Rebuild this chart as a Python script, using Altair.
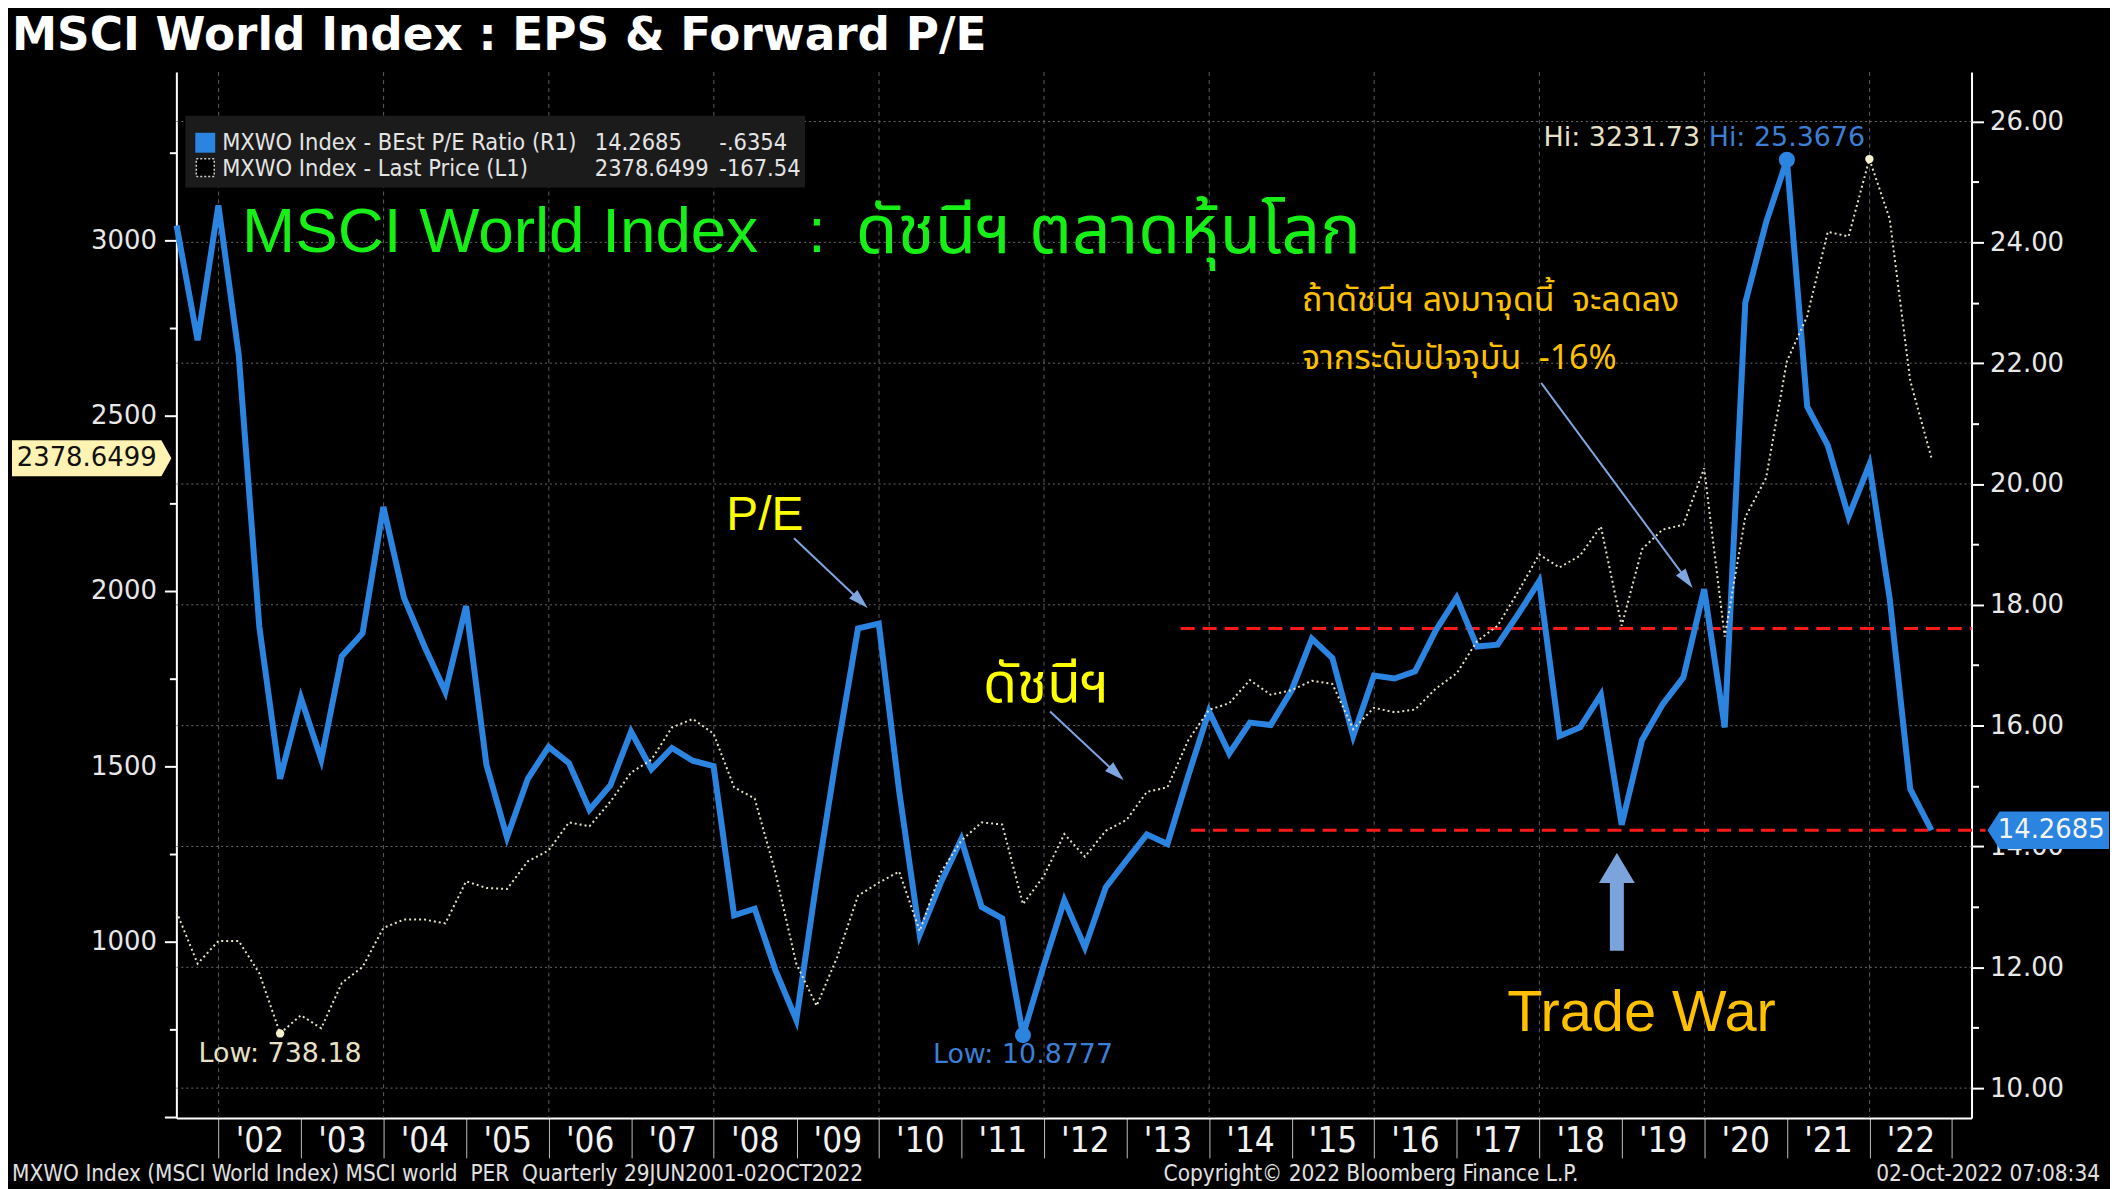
import math
import altair as alt
import pandas as pd

# ---------------- data ----------------
quarter_ends = []
for y in range(2001, 2023):
    for m, d in ((3, 31), (6, 30), (9, 30), (12, 31)):
        if (y == 2001 and m < 6) or (y == 2022 and m > 9):
            continue
        quarter_ends.append(f"{y}-{m:02d}-{d}")
quarter_ends[0] = "2001-06-29"
quarter_ends[-1] = "2022-10-02"

pe_ratio = [24.28, 22.38, 24.61, 22.14, 17.64, 15.12, 16.46, 15.44, 17.15, 17.53,
            19.62, 18.12, 17.31, 16.56, 17.98, 15.35, 14.15, 15.12, 15.65, 15.38,
            14.61, 15.01, 15.90, 15.28, 15.63, 15.42, 15.33, 12.86, 12.97, 11.95,
            11.13, 13.43, 15.58, 17.61, 17.69, 14.92, 12.54, 13.39, 14.12, 13.00,
            12.81, 10.8777, 12.03, 13.11, 12.33, 13.32, 13.77, 14.20, 14.04, 15.17,
            16.24, 15.54, 16.05, 16.01, 16.58, 17.44, 17.12, 15.83, 16.83, 16.78,
            16.90, 17.58, 18.12, 17.31, 17.34, 17.85, 18.39, 15.83, 15.97, 16.51,
            14.36, 15.76, 16.35, 16.80, 18.26, 15.97, 23.00, 24.33, 25.3676, 21.28,
            20.64, 19.46, 20.32, 18.10, 14.95, 14.2685]

index_price = [1085, 937, 1002, 1002, 910, 738.18, 790, 753, 882, 928,
               1039, 1063, 1063, 1052, 1172, 1153, 1150, 1229, 1260, 1340,
               1329, 1399, 1482, 1519, 1611, 1635, 1593, 1440, 1408, 1196,
               937, 817, 956, 1131, 1168, 1200, 1030, 1196, 1288, 1340,
               1334, 1107, 1187, 1307, 1242, 1316, 1347, 1427, 1440, 1574,
               1661, 1680, 1746, 1704, 1717, 1744, 1735, 1606, 1667, 1654,
               1662, 1722, 1765, 1857, 1901, 1999, 2104, 2067, 2101, 2184,
               1901, 2119, 2175, 2189, 2350, 1870, 2211, 2322, 2655, 2784,
               3024, 3011, 3231.73, 3061, 2599, 2378.6499]

grid_years = [f"{y}-01-01" for y in range(2002, 2023, 2)]
pe_grid = list(range(10, 27, 2))
upper_band = 17.61      # red dashed resistance
lower_band = 14.2685    # red dashed = current P/E
band_start = ["2013-08-28", "2013-10-13"]

df = pd.DataFrame({"date": quarter_ends, "pe": pe_ratio, "idx": index_price})

# ---------------- layout ----------------
W, H = 1802, 1050
TOTAL_W, TOTAL_H = 2110, 1181
PAD = {"left": 169, "top": 62, "right": TOTAL_W - 169 - W, "bottom": TOTAL_H - 62 - H}


def px(x):
    return x - 177


def py(y):
    return y - 70


NB = "\u00a0"
BLUE = "#2a84e0"
CREAM = "#e6e1c6"
NARROW = "Liberation Sans Narrow, DejaVu Sans Condensed, Roboto"
SANS = "Liberation Sans"
DV = "DejaVu Sans"
THAI = "Noto Sans Thai, Loma, Tlwg Typo, Leelawadee UI, Tahoma, Liberation Sans"

xscale = alt.Scale(domain=[alt.DateTime(year=2001, month=6, date=28),
                           alt.DateTime(year=2023, month=3, date=28)])
xaxis = alt.Axis(values=[alt.DateTime(year=y, month=1, date=1) for y in range(2002, 2024)],
                 labelExpr="year(datum.value) >= 2023 ? '' : \"'\" + timeFormat(datum.value, '%y')",
                 labelOffset=41, labelAlign="center", labelBaseline="top",
                 labelFlush=False, labelOverlap=False,
                 labelFont=NARROW, labelFontSize=35, labelColor="#f2f2f2",
                 tickSize=40, tickColor="#bdbdbd", tickWidth=1,
                 domainColor="#ffffff", domainWidth=2, labelPadding=-34,
                 grid=False, title=None)
X = alt.X("date:T", scale=xscale, axis=xaxis)

lscale = alt.Scale(domain=[497, 3480], nice=False, zero=False)
laxis = alt.Axis(orient="left", values=list(range(500, 3251, 250)),
                 labelExpr="datum.value % 500 === 0 && datum.value >= 1000 ? format(datum.value, 'd') : ''",
                 labelFont=DV, labelFontSize=26, labelColor="#e8e8e8",
                 tickColor="#ffffff", tickWidth=2,
                 tickSize={"condition": {"test": "datum.value % 500 === 0", "value": 12}, "value": 7},
                 domainColor="#ffffff", domainWidth=2, labelPadding=8, grid=False, title=None)

rscale = alt.Scale(domain=[9.505, 26.82], nice=False, zero=False)
raxis = alt.Axis(orient="right", values=list(range(10, 27)),
                 labelExpr="datum.value % 2 === 0 ? format(datum.value, '.2f') : ''",
                 labelFont=DV, labelFontSize=26, labelColor="#e8e8e8",
                 tickColor="#ffffff", tickWidth=2,
                 tickSize={"condition": {"test": "datum.value % 2 === 0", "value": 12}, "value": 7},
                 domainColor="#ffffff", domainWidth=2, labelPadding=6, grid=False, title=None)

YL = lambda f: alt.Y(f, scale=lscale, axis=laxis)
YR = lambda f: alt.Y(f, scale=rscale, axis=raxis)

# ---------------- grid ----------------
vgrid = alt.Chart(pd.DataFrame({"date": grid_years})).mark_rule(
    color="#5c5c5c", strokeWidth=1, strokeDash=[4, 4]).encode(x=X)
hgrid = alt.Chart(pd.DataFrame({"v": pe_grid})).mark_rule(
    color="#6a6a6a", strokeWidth=1, strokeDash=[2, 3]).encode(y=YR("v:Q"))

# ---------------- right (P/E) layer ----------------
pe_line = alt.Chart(df).mark_line(color=BLUE, strokeWidth=6).encode(x=X, y=YR("pe:Q"))

i_lo = pe_ratio.index(min(pe_ratio))
i_hi = pe_ratio.index(max(pe_ratio))
pe_ext = pd.DataFrame({"date": [quarter_ends[i_lo], quarter_ends[i_hi]],
                       "pe": [pe_ratio[i_lo], pe_ratio[i_hi]],
                       "t": [f"Low: {pe_ratio[i_lo]:.4f}", f"Hi: {pe_ratio[i_hi]:.4f}"]})
pe_dots = alt.Chart(pe_ext).mark_point(filled=True, size=260, color=BLUE, opacity=1).encode(x=X, y=YR("pe:Q"))
pe_lo_lbl = alt.Chart(pe_ext.iloc[[0]]).mark_text(font=DV, fontSize=27, color="#3a7fd5", dy=20).encode(
    x=X, y=YR("pe:Q"), text="t:N")
pe_hi_lbl = alt.Chart(pe_ext.iloc[[1]]).mark_text(font=DV, fontSize=27, color="#3a7fd5", dy=-22).encode(
    x=X, y=YR("pe:Q"), text="t:N")

bands = pd.DataFrame({"date": band_start, "pe": [upper_band, lower_band]})
red_up = alt.Chart(bands.iloc[[0]]).mark_rule(color="#ff1a1a", strokeWidth=3, strokeDash=[14, 8]).encode(
    x=X, x2=alt.value(W), y=YR("pe:Q"))
red_lo = alt.Chart(bands.iloc[[1]]).mark_rule(color="#ff1a1a", strokeWidth=3, strokeDash=[14, 8]).encode(
    x=X, x2=alt.value(W + 14), y=YR("pe:Q"))

last_pe = pd.DataFrame({"pe": [pe_ratio[-1]], "t": [f"{pe_ratio[-1]:.4f}"]})
pe_box = alt.Chart(last_pe).mark_point(
    filled=True, size=122 ** 2, color=BLUE, opacity=1, strokeWidth=0,
    shape="M-1,0 L-0.8,-0.31 L1,-0.31 L1,0.31 L-0.8,0.31 Z").encode(x=alt.value(px(2056)), y=YR("pe:Q"))
pe_box_t = alt.Chart(last_pe).mark_text(font=DV, fontSize=26, color="#f4f4f4").encode(
    x=alt.value(px(2059)), y=YR("pe:Q"), text="t:N")

right_layer = alt.layer(hgrid, red_up, red_lo, pe_line, pe_dots, pe_lo_lbl, pe_hi_lbl, pe_box, pe_box_t)

# ---------------- left (index) layer ----------------
idx_line = alt.Chart(df).mark_line(color=CREAM, strokeWidth=2, strokeDash=[2, 3]).encode(x=X, y=YL("idx:Q"))
j_lo = index_price.index(min(index_price))
j_hi = index_price.index(max(index_price))
idx_ext = pd.DataFrame({"date": [quarter_ends[j_lo], quarter_ends[j_hi]],
                        "idx": [index_price[j_lo], index_price[j_hi]],
                        "t": [f"Low: {index_price[j_lo]:.2f}", f"Hi: {index_price[j_hi]:.2f}"]})
idx_dots = alt.Chart(idx_ext).mark_point(filled=True, size=70, color="#f6f1cf", opacity=1).encode(x=X, y=YL("idx:Q"))
idx_lo_lbl = alt.Chart(idx_ext.iloc[[0]]).mark_text(font=DV, fontSize=27, color=CREAM, dy=21).encode(
    x=X, y=YL("idx:Q"), text="t:N")
idx_hi_lbl = alt.Chart(idx_ext.iloc[[1]]).mark_text(font=DV, fontSize=27, color=CREAM, dy=-21, dx=-170,
                                                    align="right").encode(x=X, y=YL("idx:Q"), text="t:N")
last_idx = pd.DataFrame({"idx": [index_price[-1]], "t": [f"{index_price[-1]:.4f}"]})
idx_box = alt.Chart(last_idx).mark_point(
    filled=True, size=160 ** 2, color="#fff3b3", opacity=1, strokeWidth=0,
    shape="M1,0 L0.875,-0.225 L-1,-0.225 L-1,0.225 L0.875,0.225 Z").encode(x=alt.value(px(92)), y=YL("idx:Q"))
idx_box_t = alt.Chart(last_idx).mark_text(font=DV, fontSize=26, color="#111111").encode(
    x=alt.value(px(87)), y=YL("idx:Q"), text="t:N")

left_layer = alt.layer(idx_line, idx_dots, idx_lo_lbl, idx_hi_lbl, idx_box, idx_box_t)


# ---------------- annotations ----------------
def txt(x, y, text, color, size, font=SANS, weight="normal", align="left"):
    return alt.Chart(pd.DataFrame({"t": [text]})).mark_text(
        font=font, fontSize=size, fontWeight=weight, color=color, align=align, baseline="middle").encode(
        x=alt.value(px(x)), y=alt.value(py(y)), text="t:N")


def box(x1, y1, x2, y2, fill, stroke=None, dash=None):
    kw = dict(color=fill)
    if stroke:
        kw = dict(fill=fill, stroke=stroke, strokeWidth=1.5, strokeDash=dash)
    return alt.Chart(pd.DataFrame({"a": [0]})).mark_rect(**kw).encode(
        x=alt.value(px(x1)), x2=alt.value(px(x2)), y=alt.value(py(y1)), y2=alt.value(py(y2)))


def arrow(x1, y1, x2, y2, color="#7ea6e0", width=2, head=20):
    dx, dy = x2 - x1, y2 - y1
    L = math.hypot(dx, dy)
    ux, uy = dx / L, dy / L
    ang = math.degrees(math.atan2(ux, -uy)) % 360
    cx, cy = x2 - ux * head / 2, y2 - uy * head / 2
    d = pd.DataFrame({"a": [0]})
    line = alt.Chart(d).mark_rule(color=color, strokeWidth=width).encode(
        x=alt.value(px(x1)), y=alt.value(py(y1)),
        x2=alt.value(px(x2 - ux * head * 0.8)), y2=alt.value(py(y2 - uy * head * 0.8)))
    tip = alt.Chart(d).mark_point(filled=True, color=color, opacity=1, size=head ** 2, angle=ang,
                                  shape="M0,-1 L0.6,1 L-0.6,1 Z", strokeWidth=0).encode(
        x=alt.value(px(cx)), y=alt.value(py(cy)))
    return [line, tip]


ann = []
ann.append(txt(12, 34, "MSCI World Index : EPS & Forward P/E", "#ffffff", 45.5, font=DV, weight="bold"))
# legend box
ann.append(box(186, 114, 808, 186, "#1b1b1b"))
ann.append(box(196, 131, 216, 151, BLUE))
ann.append(box(197, 157, 215, 175, "#000000", stroke="#d0d0d0", dash=[2, 2]))
LG = "#e4e4e4"
ann.append(txt(223, 141, "MXWO Index - BEst P/E Ratio (R1)", LG, 23.5, font=NARROW))
ann.append(txt(597, 141, "14.2685", LG, 23.5, font=NARROW))
ann.append(txt(722, 141, "-.6354", LG, 23.5, font=NARROW))
ann.append(txt(223, 167, "MXWO Index - Last Price (L1)", LG, 23.5, font=NARROW))
ann.append(txt(597, 167, "2378.6499", LG, 23.5, font=NARROW))
ann.append(txt(722, 167, "-167.54", LG, 23.5, font=NARROW))
# big green heading
GREEN = "#16f016"
ann.append(txt(243, 232, "MSCI World Index", GREEN, 64))
ann.append(txt(811, 232, ":", GREEN, 64))
ann.append(txt(859, 232, "ดัชนีฯ ตลาดหุ้นโลก", GREEN, 68, font=THAI))
# yellow / orange notes
ann.append(txt(729, 516, "P/E", "#ffff00", 48))
ann.append(txt(987, 685, "ดัชนีฯ", "#ffff00", 55, font=THAI))
ann.append(txt(1307, 300, f"ถ้าดัชนีฯ ลงมาจุดนี้{NB} จะลดลง", "#ffc000", 34, font=THAI))
ann.append(txt(1307, 358, f"จากระดับปัจจุบัน{NB} -16%", "#ffc000", 34, font=THAI))
ann.append(txt(1513, 1016, "Trade War", "#ffc000", 58))
ann += arrow(797, 538, 871, 608)
ann += arrow(1054, 712, 1128, 781)
ann += arrow(1547, 382, 1699, 588)
# block arrow (Trade War)
ann.append(alt.Chart(pd.DataFrame({"a": [0]})).mark_point(
    filled=True, color="#7ba4dc", opacity=1, size=98 ** 2, strokeWidth=0,
    shape="M0,-1 L0.367,-0.388 L0.143,-0.388 L0.143,1 L-0.143,1 L-0.143,-0.388 L-0.367,-0.388 Z").encode(
    x=alt.value(px(1623)), y=alt.value(py(903))))
# footer
FT = "#e0e0e0"
ann.append(txt(12, 1176, f"MXWO Index (MSCI World Index) MSCI world{NB} PER{NB} Quarterly 29JUN2001-02OCT2022",
               FT, 22.5, font=NARROW))
ann.append(txt(1168, 1176, "Copyright© 2022 Bloomberg Finance L.P.", FT, 22.5, font=NARROW))
ann.append(txt(2108, 1176, "02-Oct-2022 07:08:34", FT, 22.5, font=NARROW, align="right"))

chart = alt.layer(vgrid, right_layer, left_layer, *ann).resolve_scale(y="independent").properties(
    width=W, height=H, padding=PAD, background="#000000",
    autosize=alt.AutoSizeParams(type="none"),
).configure_view(strokeWidth=0)

chart.save("out.html", embed_options={"renderer": "svg", "actions": False})
